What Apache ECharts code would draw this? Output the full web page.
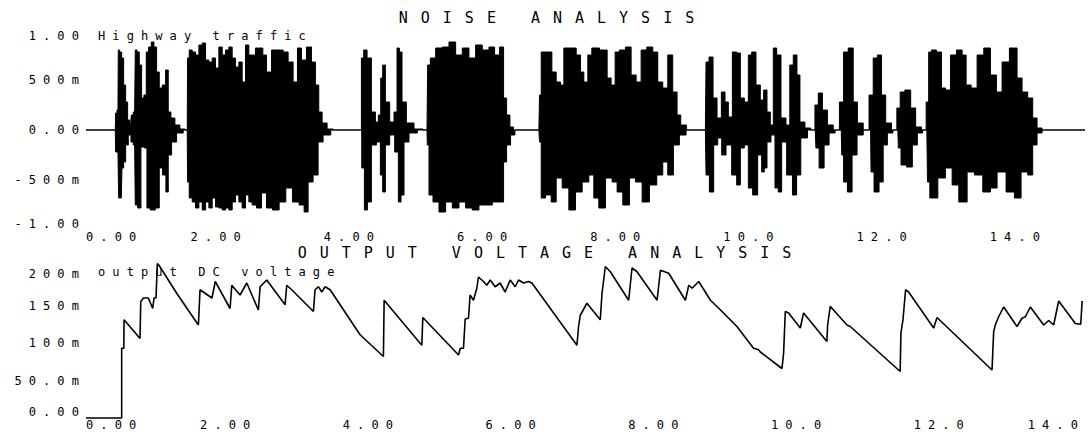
<!DOCTYPE html>
<html><head><meta charset="utf-8">
<script src="https://cdn.jsdelivr.net/npm/echarts@6/dist/echarts.min.js"></script>
<style>
html,body{margin:0;padding:0;background:#fff;}
#main{width:1088px;height:432px;}
#main text{letter-spacing:7.1px;}
#main text[style*="Courier"]{letter-spacing:13px;}
</style></head>
<body><div id="main"></div>
<script>
// ---- tick labels ----
const xTickLabels = ['0.00','2.00','4.00','6.00','8.00','10.0','12.0','14.0'];
const noiseTickLabels = ['-1.00','-500m','0.00','500m','1.00'];
const voltTickLabels = ['0.00','50.0m','100m','150m','200m'];

// ---- NOISE ANALYSIS: envelope of "Highway traffic" signal [time, V] ----
const noiseUpper = [[0,0],[0.44,0],[0.45,0.17],[0.48,0.2],[0.49,0.8],[0.52,0.78],[0.55,0.72],[0.58,0.45],[0.61,0.28],[0.64,0.1],[0.67,0.05],[0.69,0.15],[0.73,0.18],[0.75,0.8],[0.78,0.78],[0.82,0.65],[0.85,0.32],[0.89,0.35],[0.92,0.78],[0.96,0.83],[1.0,0.88],[1.04,0.83],[1.08,0.58],[1.12,0.42],[1.17,0.45],[1.22,0.6],[1.25,0.18],[1.3,0.12],[1.37,0.05],[1.45,0.01],[1.52,0],
[1.53,0.72],[1.57,0.8],[1.62,0.78],[1.67,0.75],[1.72,0.85],[1.77,0.87],[1.82,0.7],[1.87,0.68],[1.92,0.72],[1.97,0.62],[2.02,0.83],[2.07,0.75],[2.12,0.8],[2.17,0.83],[2.22,0.72],[2.27,0.63],[2.32,0.68],[2.37,0.48],[2.42,0.85],[2.47,0.75],[2.52,0.75],[2.57,0.82],[2.64,0.82],[2.67,0.75],[2.75,0.58],[2.82,0.8],[2.92,0.8],[3.0,0.78],[3.07,0.68],[3.15,0.48],[3.2,0.82],[3.27,0.7],[3.35,0.83],[3.42,0.68],[3.47,0.45],[3.52,0.18],[3.57,0.07],[3.67,0.01],[3.75,0],
[4.12,0],[4.15,0.72],[4.19,0.8],[4.25,0.72],[4.32,0.18],[4.37,0.08],[4.41,0.15],[4.44,0.52],[4.47,0.65],[4.52,0.28],[4.6,0.08],[4.65,0.18],[4.69,0.82],[4.72,0.78],[4.77,0.28],[4.85,0.07],[5.0,0.01],[5.12,0],
[5.14,0.65],[5.2,0.72],[5.3,0.82],[5.4,0.83],[5.5,0.88],[5.6,0.75],[5.7,0.82],[5.8,0.72],[5.9,0.85],[6.0,0.8],[6.1,0.83],[6.17,0.75],[6.25,0.83],[6.29,0.32],[6.34,0.15],[6.39,0.03],[6.45,0],
[6.8,0],[6.82,0.35],[6.85,0.78],[6.97,0.78],[7.02,0.58],[7.1,0.48],[7.15,0.45],[7.2,0.82],[7.32,0.82],[7.4,0.75],[7.45,0.58],[7.5,0.48],[7.57,0.75],[7.62,0.82],[7.8,0.8],[7.85,0.52],[7.92,0.45],[7.97,0.78],[8.05,0.8],[8.15,0.83],[8.22,0.55],[8.3,0.48],[8.37,0.8],[8.47,0.83],[8.55,0.78],[8.62,0.48],[8.7,0.42],[8.77,0.75],[8.85,0.38],[8.9,0.15],[8.96,0.05],[9.07,0],
[9.3,0],[9.32,0.68],[9.39,0.73],[9.44,0.32],[9.51,0.12],[9.57,0.38],[9.62,0.28],[9.67,0.13],[9.74,0.78],[9.8,0.77],[9.85,0.32],[9.92,0.28],[9.97,0.75],[10.02,0.78],[10.1,0.45],[10.15,0.3],[10.2,0.4],[10.25,0.18],[10.3,0.05],[10.34,0.82],[10.4,0.75],[10.47,0.12],[10.55,0.05],[10.585,0.65],[10.655,0.75],[10.695,0.55],[10.745,0.08],[10.845,0.02],[10.92,0],
[10.97,0.25],[11.02,0.37],[11.095,0.2],[11.17,0.05],[11.27,0],[11.355,0.28],[11.395,0.78],[11.495,0.82],[11.545,0.28],[11.62,0.07],[11.72,0],[11.795,0.35],[11.845,0.72],[11.92,0.75],[11.97,0.35],[12.045,0.07],[12.145,0],[12.205,0.22],[12.245,0.38],[12.345,0.4],[12.42,0.22],[12.495,0.03],[12.595,0],
[12.635,0.28],[12.67,0.78],[12.72,0.8],[12.82,0.78],[12.87,0.42],[12.94,0.4],[13.02,0.75],[13.12,0.8],[13.19,0.75],[13.24,0.45],[13.34,0.42],[13.42,0.75],[13.54,0.82],[13.62,0.55],[13.72,0.38],[13.79,0.68],[13.94,0.82],[14.02,0.52],[14.09,0.38],[14.19,0.32],[14.24,0.12],[14.32,0.02],[14.39,0],[15,0]];

const noiseLower = [[0,0],[0.44,0],[0.45,-0.22],[0.48,-0.22],[0.5,-0.68],[0.53,-0.68],[0.55,-0.38],[0.58,-0.32],[0.61,-0.15],[0.66,-0.05],[0.69,-0.12],[0.73,-0.15],[0.75,-0.75],[0.8,-0.78],[0.85,-0.17],[0.9,-0.18],[0.93,-0.78],[1.0,-0.8],[1.08,-0.78],[1.12,-0.38],[1.18,-0.45],[1.22,-0.62],[1.25,-0.25],[1.32,-0.12],[1.4,-0.03],[1.52,0],
[1.53,-0.52],[1.57,-0.68],[1.62,-0.72],[1.67,-0.78],[1.72,-0.72],[1.77,-0.8],[1.82,-0.72],[1.87,-0.78],[1.92,-0.68],[1.97,-0.77],[2.02,-0.78],[2.07,-0.8],[2.12,-0.78],[2.17,-0.8],[2.22,-0.72],[2.27,-0.65],[2.32,-0.72],[2.37,-0.78],[2.42,-0.65],[2.47,-0.72],[2.52,-0.75],[2.6,-0.78],[2.67,-0.63],[2.75,-0.78],[2.85,-0.8],[2.95,-0.72],[3.05,-0.58],[3.15,-0.72],[3.25,-0.75],[3.3,-0.82],[3.37,-0.52],[3.45,-0.45],[3.52,-0.12],[3.6,-0.05],[3.75,0],
[4.12,0],[4.16,-0.38],[4.2,-0.8],[4.25,-0.72],[4.32,-0.15],[4.4,-0.12],[4.44,-0.45],[4.47,-0.62],[4.52,-0.15],[4.6,-0.05],[4.67,-0.22],[4.71,-0.72],[4.75,-0.65],[4.8,-0.12],[4.9,-0.03],[5.05,0],[5.12,0],
[5.13,-0.15],[5.17,-0.65],[5.25,-0.72],[5.35,-0.82],[5.45,-0.72],[5.55,-0.78],[5.65,-0.72],[5.75,-0.78],[5.85,-0.8],[5.95,-0.75],[6.05,-0.75],[6.15,-0.72],[6.25,-0.72],[6.29,-0.32],[6.34,-0.15],[6.41,-0.05],[6.47,0],
[6.8,0],[6.82,-0.12],[6.85,-0.68],[6.95,-0.65],[7.02,-0.72],[7.1,-0.48],[7.2,-0.58],[7.3,-0.8],[7.4,-0.62],[7.5,-0.52],[7.6,-0.45],[7.65,-0.68],[7.75,-0.78],[7.85,-0.48],[7.95,-0.52],[8.0,-0.62],[8.12,-0.75],[8.2,-0.48],[8.3,-0.52],[8.4,-0.72],[8.52,-0.55],[8.62,-0.45],[8.7,-0.32],[8.77,-0.45],[8.87,-0.15],[8.95,-0.05],[9.07,0],
[9.3,0],[9.32,-0.45],[9.4,-0.62],[9.45,-0.15],[9.52,-0.08],[9.57,-0.25],[9.65,-0.15],[9.74,-0.45],[9.8,-0.55],[9.85,-0.18],[9.92,-0.15],[9.97,-0.58],[10.05,-0.65],[10.12,-0.25],[10.17,-0.42],[10.2,-0.38],[10.25,-0.12],[10.32,-0.05],[10.37,-0.58],[10.42,-0.62],[10.47,-0.12],[10.57,-0.45],[10.645,-0.65],[10.695,-0.45],[10.77,-0.08],[10.895,0],
[10.95,0],[10.97,-0.18],[11.045,-0.38],[11.12,-0.15],[11.195,-0.03],[11.3,0],[11.34,0],[11.355,-0.25],[11.395,-0.52],[11.47,-0.62],[11.535,-0.25],[11.62,-0.05],[11.72,0],[11.78,0],[11.795,-0.42],[11.87,-0.62],[11.945,-0.52],[11.995,-0.15],[12.07,-0.03],[12.16,0],[12.19,0],[12.205,-0.18],[12.27,-0.35],[12.37,-0.37],[12.445,-0.15],[12.52,-0.03],[12.605,0],
[12.625,0],[12.645,-0.52],[12.695,-0.68],[12.74,-0.68],[12.84,-0.48],[12.97,-0.38],[13.04,-0.55],[13.17,-0.72],[13.29,-0.42],[13.39,-0.45],[13.54,-0.62],[13.62,-0.58],[13.74,-0.42],[13.89,-0.62],[13.99,-0.68],[14.09,-0.42],[14.19,-0.45],[14.24,-0.15],[14.32,-0.03],[14.39,0],[15,0]];

// ---- OUTPUT VOLTAGE ANALYSIS: "output DC voltage" [time, V] ----
const outputDC = [[0,0],[0.5,0],[0.5,0.093],[0.53,0.093],[0.533,0.131],[0.757,0.106],[0.767,0.155],[0.804,0.16],[0.874,0.16],[0.935,0.146],[0.953,0.16],[0.981,0.16],[1.0,0.206],[1.02,0.204],[1.28,0.165],[1.575,0.124],
[1.598,0.171],[1.765,0.16],[1.812,0.182],[2.019,0.146],[2.043,0.177],[2.159,0.164],[2.253,0.18],[2.416,0.144],[2.44,0.175],[2.533,0.184],[2.79,0.151],[2.813,0.177],[2.883,0.171],[3.187,0.142],[3.21,0.171],[3.257,0.175],[3.304,0.168],[3.351,0.175],[3.421,0.171],[3.841,0.111],
[4.168,0.082],[4.178,0.157],[4.706,0.097],[4.72,0.134],[5.221,0.084],[5.245,0.093],[5.29,0.093],[5.314,0.132],[5.36,0.133],[5.383,0.164],[5.43,0.157],[5.477,0.173],[5.5,0.188],[5.57,0.182],[5.617,0.177],[5.664,0.184],[5.734,0.175],[5.804,0.18],[5.874,0.168],[5.945,0.184],[6.015,0.175],[6.062,0.184],[6.132,0.18],[6.202,0.182],[6.249,0.18],[6.88,0.097],
[6.903,0.122],[6.927,0.137],[7.02,0.153],[7.207,0.131],[7.231,0.166],[7.278,0.202],[7.348,0.195],[7.605,0.157],[7.652,0.2],[7.722,0.195],[8.003,0.157],[8.05,0.197],[8.166,0.193],[8.4,0.157],[8.447,0.177],[8.494,0.173],[8.587,0.182],[8.751,0.157],[8.892,0.144],[9.122,0.122],[9.355,0.093],[9.426,0.091],[9.449,0.088],[9.753,0.066],
[9.776,0.086],[9.8,0.142],[9.846,0.14],[10.01,0.12],[10.056,0.14],[10.383,0.102],[10.393,0.124],[10.43,0.149],[10.664,0.124],[10.71,0.122],[11.41,0.062],[11.42,0.113],[11.449,0.131],[11.486,0.171],[11.528,0.168],[11.879,0.12],[11.926,0.134],[12.697,0.064],
[12.72,0.115],[12.743,0.124],[12.79,0.135],[12.86,0.148],[13.047,0.122],[13.117,0.133],[13.164,0.135],[13.234,0.148],[13.421,0.124],[13.491,0.13],[13.561,0.124],[13.631,0.156],[13.865,0.126],[13.94,0.125],[13.96,0.156]];

const titles = ['NOISE ANALYSIS', 'OUTPUT VOLTAGE ANALYSIS'];
const traceNames = ['Highway traffic', 'output DC voltage'];

const FONT = "'DejaVu Sans Mono', monospace";
const TITLE_FONT = "15px 'DejaVu Sans Mono', Courier";

function xFmt(v) { const i = Math.round(v / 2); return (Math.abs(v - i * 2) < 1e-6 && xTickLabels[i]) || ''; }
function noiseFmt(v) { return noiseTickLabels[Math.round((v + 1) / 0.5)] || ''; }
function voltFmt(v) { return voltTickLabels[Math.round(v / 0.05)] || ''; }

const hidden = { axisLine: { show: false }, axisTick: { show: false }, splitLine: { show: false } };
const lab = { color: '#000', fontFamily: FONT, fontSize: 12 };

const chart = echarts.init(document.getElementById('main'), null, { renderer: 'svg' });
chart.setOption({
  animation: false,
  backgroundColor: '#fff',
  grid: [
    { left: 86, right: 0, top: 30, height: 200 },
    { left: 86, right: 3, top: 268, height: 150 }
  ],
  xAxis: [
    Object.assign({ type: 'value', gridIndex: 0, min: 0, max: 15, interval: 2,
      axisLabel: Object.assign({ margin: 1, interval: 0, formatter: xFmt, alignMinLabel: 'left' }, lab) }, hidden),
    Object.assign({ type: 'value', gridIndex: 1, min: 0, max: 14, interval: 2,
      axisLabel: Object.assign({ margin: 1, interval: 0, formatter: xFmt, alignMinLabel: 'left', alignMaxLabel: 'right' }, lab) }, hidden)
  ],
  yAxis: [
    Object.assign({ type: 'value', gridIndex: 0, min: -1, max: 1, interval: 0.5,
      axisLabel: Object.assign({ margin: 0, formatter: noiseFmt, verticalAlignMaxLabel: 'top', verticalAlignMinLabel: 'bottom' }, lab) }, hidden),
    Object.assign({ type: 'value', gridIndex: 1, min: 0, max: 0.2, interval: 0.05,
      axisLabel: Object.assign({ margin: 0, formatter: voltFmt, verticalAlignMaxLabel: 'top', verticalAlignMinLabel: 'bottom' }, lab) }, hidden)
  ],
  series: [
    { name: traceNames[0], type: 'line', xAxisIndex: 0, yAxisIndex: 0, data: noiseUpper, symbol: 'none', silent: true, step: 'middle',
      lineStyle: { color: '#000', width: 1 }, areaStyle: { color: '#000', opacity: 1 } },
    { name: traceNames[0] + ' (min)', type: 'line', xAxisIndex: 0, yAxisIndex: 0, data: noiseLower, symbol: 'none', silent: true, step: 'middle',
      lineStyle: { color: '#000', width: 1 }, areaStyle: { color: '#000', opacity: 1 } },
    { name: traceNames[1], type: 'line', xAxisIndex: 1, yAxisIndex: 1, data: outputDC, symbol: 'none', silent: true, clip: false,
      lineStyle: { color: '#000', width: 1.6 } }
  ],
  graphic: [
    { type: 'text', x: 553, y: 18, silent: true, style: { text: titles[0], fill: '#000', font: TITLE_FONT, textAlign: 'center', align: 'center', textVerticalAlign: 'middle', verticalAlign: 'middle' } },
    { type: 'text', x: 551, y: 253, silent: true, style: { text: titles[1], fill: '#000', font: TITLE_FONT, textAlign: 'center', align: 'center', textVerticalAlign: 'middle', verticalAlign: 'middle' } },
    { type: 'text', x: 98, y: 36, silent: true, style: { text: traceNames[0], fill: '#000', font: "12px " + FONT, textAlign: 'left', align: 'left', textVerticalAlign: 'middle', verticalAlign: 'middle' } },
    { type: 'text', x: 98, y: 272, silent: true, style: { text: traceNames[1], fill: '#000', font: "12px " + FONT, textAlign: 'left', align: 'left', textVerticalAlign: 'middle', verticalAlign: 'middle' } }
  ]
});
</script>
</body></html>
